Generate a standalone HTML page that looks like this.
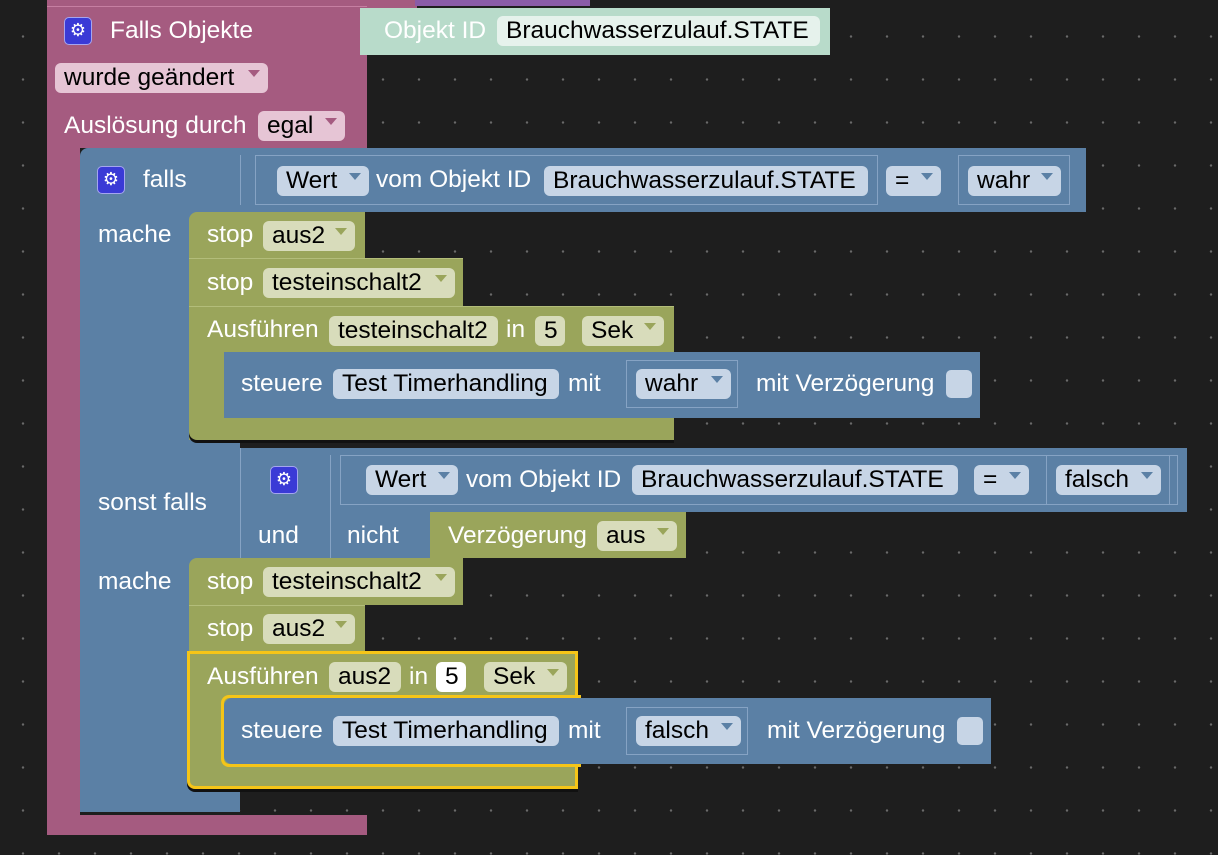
<!DOCTYPE html>
<html><head><meta charset="utf-8"><style>
body{margin:0;width:1218px;height:855px;overflow:hidden;background-color:#1e1e1e;
background-image:radial-gradient(circle,#6a6a6a 1px,transparent 1.4px);background-size:36px 43px;background-position:5px 15px;position:relative;font-family:"Liberation Sans",sans-serif}
div{position:absolute;box-sizing:border-box}
.t{font-size:24.5px;color:#fff;line-height:30px;white-space:nowrap}
.p{height:30px;border-radius:6px;color:#000;font-size:24.5px;line-height:30px;padding-left:9px;white-space:nowrap}
.p.dd::after{content:"";position:absolute;right:8px;top:7px;border-left:6px solid transparent;border-right:6px solid transparent;border-top:7px solid}
.pk{background:#e6c5d5}.pk::after{border-top-color:#a55b80!important}
.bl{background:#c7d5e6}.bl::after{border-top-color:#5b80a5!important}
.gr{background:#d8dcbb}.gr::after{border-top-color:#9aa55b!important}
.pinkc{background:#a55b80}.bluec{background:#5b80a5}.greenc{background:#9aa55b}
.box{border:1.5px solid #86a3c4}
.gear{width:28px;height:28px;background:#3a3ad6;border:1.5px solid #a5a5f0;border-radius:5px;color:#fff;font-size:18px;line-height:25px;text-align:center}
</style></head><body>
<div class="pinkc" style="left:47px;top:0;width:370px;height:8px"></div>
<div style="left:415px;top:0;width:175px;height:6px;background:#8a5ca8"></div>
<div class="pinkc" style="left:47px;top:6px;width:320px;height:142px;border-top:1px solid #c67fa2"></div>
<div class="pinkc" style="left:47px;top:140px;width:33px;height:695px"></div>
<div class="pinkc" style="left:47px;top:815px;width:320px;height:20px;border-radius:0 0 0 8px"></div>
<div class="gear" style="left:64px;top:17px">⚙</div>
<div class="t" style="left:110px;top:16px">Falls Objekte</div>
<div class="p dd pk" style="left:55px;top:63px;width:213px">wurde geändert</div>
<div class="t" style="left:64px;top:111px">Auslösung durch</div>
<div class="p dd pk" style="left:258px;top:111px;width:87px">egal</div>
<div style="left:360px;top:8px;width:470px;height:47px;background:#b8dbca"></div>
<div class="t" style="left:384px;top:16px">Objekt ID</div>
<div class="p" style="left:497px;top:16px;width:323px;background:#e6f2ec">Brauchwasserzulauf.STATE</div>
<div class="bluec" style="left:80px;top:148px;width:1006px;height:64px;border-radius:8px 0 0 0"></div>
<div class="bluec" style="left:80px;top:200px;width:160px;height:612px"></div>
<div class="gear" style="left:97px;top:166px">⚙</div>
<div class="t" style="left:143px;top:165px">falls</div>
<div class="box" style="left:240px;top:155px;width:836px;height:50px;border-right:none;border-top:none;border-bottom:none"></div>
<div class="box" style="left:255px;top:155px;width:623px;height:50px"></div>
<div class="p dd bl" style="left:277px;top:166px;width:92px">Wert</div>
<div class="t" style="left:376px;top:165px">vom Objekt ID</div>
<div class="p bl" style="left:544px;top:166px;width:324px">Brauchwasserzulauf.STATE</div>
<div class="p dd bl" style="left:886px;top:166px;width:55px">=</div>
<div class="box" style="left:958px;top:155px;width:112px;height:50px"></div>
<div class="p dd bl" style="left:968px;top:166px;width:93px">wahr</div>
<div class="t" style="left:98px;top:220px">mache</div>
<div class="greenc" style="left:189px;top:212px;width:176px;height:46px;border-radius:8px 0 0 0"></div>
<div class="t" style="left:207px;top:220px">stop</div>
<div class="p dd gr" style="left:263px;top:221px;width:92px">aus2</div>
<div class="greenc" style="left:189px;top:258px;width:274px;height:48px;border-top:1px solid #b3bd7a"></div>
<div class="t" style="left:207px;top:268px">stop</div>
<div class="p dd gr" style="left:263px;top:268px;width:192px">testeinschalt2</div>
<div class="greenc" style="left:189px;top:306px;width:485px;height:46px;border-top:1px solid #b3bd7a"></div>
<div class="greenc" style="left:189px;top:340px;width:35px;height:100px"></div>
<div class="greenc" style="left:189px;top:418px;width:485px;height:22px;border-radius:0 0 0 8px;box-shadow:0 3px 0 #111"></div>
<div class="t" style="left:207px;top:315px">Ausführen</div>
<div class="p gr" style="left:329px;top:316px;width:169px">testeinschalt2</div>
<div class="t" style="left:506px;top:315px">in</div>
<div class="p gr" style="left:535px;top:316px;width:30px">5</div>
<div class="p dd gr" style="left:582px;top:316px;width:82px">Sek</div>
<div class="bluec" style="left:224px;top:352px;width:756px;height:66px;border-radius:8px 0 0 8px"></div>
<div class="t" style="left:241px;top:369px">steuere</div>
<div class="p bl" style="left:333px;top:369px;width:226px">Test Timerhandling</div>
<div class="t" style="left:568px;top:369px">mit</div>
<div class="box" style="left:626px;top:360px;width:112px;height:48px"></div>
<div class="p dd bl" style="left:636px;top:369px;width:95px">wahr</div>
<div class="t" style="left:756px;top:369px">mit Verzögerung</div>
<div style="left:946px;top:370px;width:26px;height:28px;background:#c7d5e6;border-radius:5px"></div>
<div class="t" style="left:98px;top:488px">sonst falls</div>
<div class="bluec" style="left:240px;top:448px;width:947px;height:64px;border-left:1.5px solid #86a3c4"></div>
<div class="bluec" style="left:240px;top:510px;width:190px;height:48px;border-left:1.5px solid #86a3c4"></div>
<div class="gear" style="left:270px;top:466px">⚙</div>
<div class="box" style="left:330px;top:455px;width:10px;height:103px;border-right:none;border-top:none;border-bottom:none"></div>
<div class="box" style="left:340px;top:455px;width:838px;height:50px"></div>
<div class="t" style="left:258px;top:521px">und</div>
<div class="t" style="left:347px;top:521px">nicht</div>
<div class="p dd bl" style="left:366px;top:465px;width:92px">Wert</div>
<div class="t" style="left:466px;top:465px">vom Objekt ID</div>
<div class="p bl" style="left:632px;top:465px;width:326px">Brauchwasserzulauf.STATE</div>
<div class="p dd bl" style="left:974px;top:465px;width:55px">=</div>
<div class="box" style="left:1046px;top:455px;width:124px;height:50px"></div>
<div class="p dd bl" style="left:1056px;top:465px;width:105px">falsch</div>
<div class="greenc" style="left:430px;top:512px;width:256px;height:46px"></div>
<div class="t" style="left:448px;top:521px">Verzögerung</div>
<div class="p dd gr" style="left:597px;top:521px;width:80px">aus</div>
<div class="t" style="left:98px;top:567px">mache</div>
<div class="greenc" style="left:189px;top:558px;width:274px;height:47px;border-radius:8px 0 0 0"></div>
<div class="t" style="left:207px;top:567px">stop</div>
<div class="p dd gr" style="left:263px;top:567px;width:192px">testeinschalt2</div>
<div class="greenc" style="left:189px;top:605px;width:176px;height:47px;border-top:1px solid #b3bd7a"></div>
<div class="t" style="left:207px;top:614px">stop</div>
<div class="p dd gr" style="left:263px;top:614px;width:92px">aus2</div>
<div class="greenc" style="left:187px;top:651px;width:391px;height:138px;border:3px solid #f5c518;border-radius:0 0 0 8px;box-shadow:0 3px 0 #111"></div>
<div class="t" style="left:207px;top:662px">Ausführen</div>
<div class="p gr" style="left:329px;top:662px;width:72px">aus2</div>
<div class="t" style="left:409px;top:662px">in</div>
<div class="p" style="left:436px;top:662px;width:30px;background:#fff">5</div>
<div class="p dd gr" style="left:484px;top:662px;width:83px">Sek</div>
<div style="left:221px;top:695px;width:360px;height:72px;border:3px solid #f5c518;border-right:none;border-radius:8px 0 0 8px"></div>
<div class="bluec" style="left:224px;top:698px;width:767px;height:66px;border-radius:8px 0 0 8px"></div>
<div class="t" style="left:241px;top:716px">steuere</div>
<div class="p bl" style="left:333px;top:716px;width:226px">Test Timerhandling</div>
<div class="t" style="left:568px;top:716px">mit</div>
<div class="box" style="left:626px;top:707px;width:122px;height:48px"></div>
<div class="p dd bl" style="left:636px;top:716px;width:105px">falsch</div>
<div class="t" style="left:767px;top:716px">mit Verzögerung</div>
<div style="left:957px;top:717px;width:26px;height:28px;background:#c7d5e6;border-radius:5px"></div>
</body></html>
